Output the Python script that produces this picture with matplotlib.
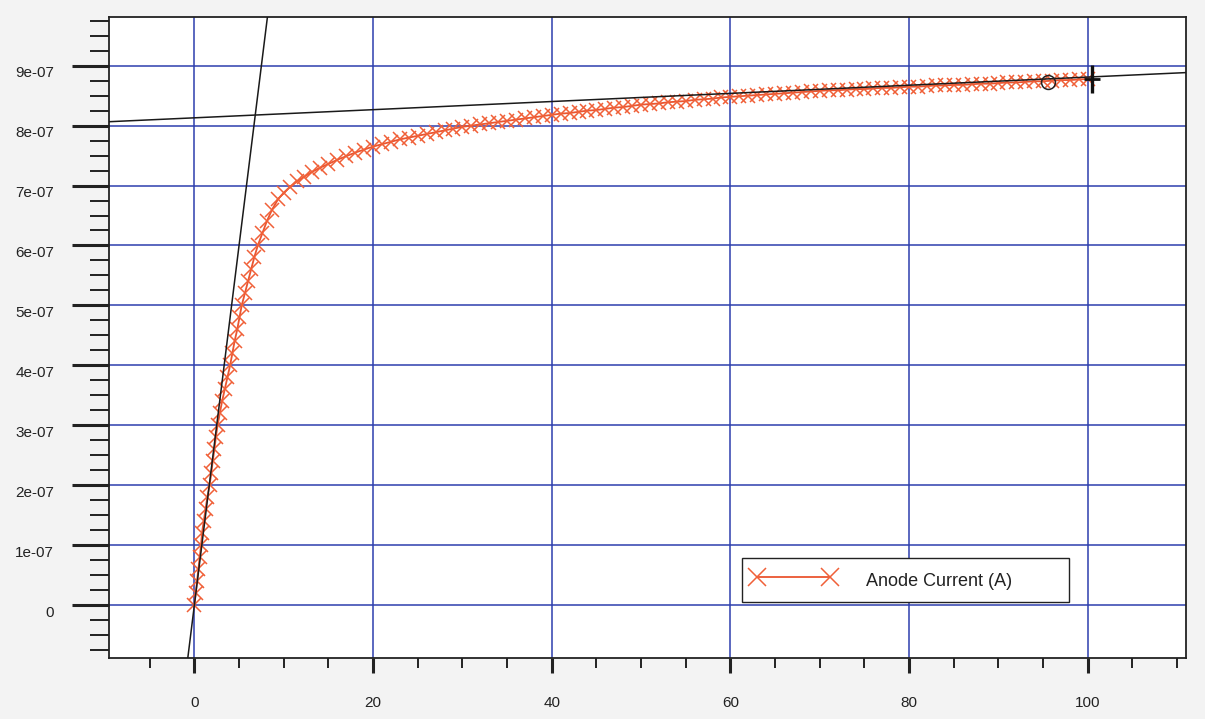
import numpy as np
import matplotlib
matplotlib.use("Agg")
import matplotlib.pyplot as plt
from matplotlib.ticker import MultipleLocator, FuncFormatter
from matplotlib.transforms import ScaledTranslation

plt.rcParams['font.family'] = ['Liberation Sans', 'DejaVu Sans']

# Anode voltage (x) and anode current (in 1e-7 A)
steep_x = [0.00, 0.15, 0.30, 0.45, 0.60, 0.75, 0.85, 1.05, 1.25, 1.45,
           1.70, 1.90, 2.05, 2.25, 2.40, 2.60, 2.85, 3.10, 3.40, 3.70,
           4.00, 4.25, 4.50, 4.80, 5.05, 5.30, 5.65, 6.00, 6.35, 6.70,
           7.10, 7.60, 8.10, 8.70, 9.40, 10.0, 10.7, 11.5, 12.3, 13.2,
           14.1, 15.0, 16.0, 17.0, 18.0, 19.0, 20.0]
steep_i = [0.00, 0.20, 0.40, 0.60, 0.80, 1.00, 1.20, 1.40, 1.60, 1.80,
           2.00, 2.20, 2.40, 2.60, 2.80, 3.00, 3.20, 3.40, 3.60, 3.80,
           4.00, 4.20, 4.40, 4.60, 4.80, 5.00, 5.20, 5.40, 5.60, 5.80,
           6.00, 6.20, 6.40, 6.60, 6.78, 6.88, 6.98, 7.07, 7.15, 7.23,
           7.30, 7.36, 7.43, 7.49, 7.55, 7.60, 7.65]
flat_x = list(range(21, 101))
flat_i = [7.69, 7.73, 7.77, 7.80, 7.83, 7.86, 7.89, 7.92, 7.95, 7.98,
          8.00, 8.02, 8.04, 8.06, 8.08, 8.10, 8.12, 8.14, 8.16, 8.18,
          8.20, 8.21, 8.23, 8.25, 8.26, 8.28, 8.30, 8.31, 8.33, 8.35,
          8.36, 8.37, 8.39, 8.40, 8.41, 8.43, 8.44, 8.45, 8.47, 8.48,
          8.49, 8.50, 8.51, 8.52, 8.53, 8.54, 8.55, 8.56, 8.57, 8.58,
          8.59, 8.59, 8.60, 8.61, 8.61, 8.62, 8.63, 8.63, 8.64, 8.65,
          8.65, 8.66, 8.67, 8.67, 8.68, 8.68, 8.69, 8.70, 8.70, 8.71,
          8.72, 8.72, 8.73, 8.74, 8.74, 8.75, 8.76, 8.76, 8.77, 8.78]

voltage = np.array(steep_x + flat_x, dtype=float)
current = np.array(steep_i + flat_i) * 1e-7

# tangent lines (point, slope) and the two cursors
steep_tangent = ((0.0, 0.0), 1.2e-7)
flat_tangent = ((0.0, 8.13e-7), 6.8e-10)
circle_cursor = (95.5, 8.73e-7)
cross_cursor = (100.5, 8.78e-7)

fig = plt.figure(figsize=(12.05, 7.19), dpi=100, facecolor='#f3f3f3')
ax = fig.add_axes([0.0905, 0.0855, 0.8938, 0.8909])
ax.set_facecolor('white')

ax.set_xlim(-9.55, 111.0)
ax.set_ylim(-0.876e-7, 9.813e-7)

ax.xaxis.set_major_locator(MultipleLocator(20))
ax.xaxis.set_minor_locator(MultipleLocator(5))
ax.yaxis.set_major_locator(MultipleLocator(1e-7))
ax.yaxis.set_minor_locator(MultipleLocator(0.25e-7))
ax.yaxis.set_major_formatter(FuncFormatter(
    lambda v, p: '0' if abs(v) < 1e-12 else f'{v:.0e}'))

ax.grid(True, which='major', color='#2d3fae', lw=1.1, zorder=0)
ax.set_axisbelow(True)

ax.tick_params(axis='y', which='major', length=27, width=2.2, pad=12.5,
               labelsize=11, colors='#222222')
ax.tick_params(axis='y', which='minor', length=14, width=1.4, colors='#222222')
ax.tick_params(axis='x', which='major', length=11, width=2.2, pad=17,
               labelsize=11, colors='#222222')
ax.tick_params(axis='x', which='minor', length=7, width=1.4, colors='#222222')
for sp in ax.spines.values():
    sp.set_linewidth(1.3)
    sp.set_color('#222222')

# y labels sit a little below their ticks in the original
shift = ScaledTranslation(0, -6 / 100, fig.dpi_scale_trans)
for lab in ax.get_yticklabels():
    lab.set_transform(lab.get_transform() + shift)

ax.axline(steep_tangent[0], slope=steep_tangent[1], color='#1a1a1a', lw=1.1, zorder=3)
ax.axline(flat_tangent[0], slope=flat_tangent[1], color='#1a1a1a', lw=1.1, zorder=3)

ax.plot(voltage, current, color='#ea5530', lw=1.3, marker='x', ms=9.5, mew=1.1,
        mec='#f06038', label='Anode Current (A)', zorder=2)

ax.plot(*circle_cursor, marker='o', ms=10, mfc='none', mec='#222222', mew=1.1, zorder=4)
ax.plot(*cross_cursor, marker='|', ms=20, mec='#111111', mew=2.4, zorder=4)
ax.plot(*cross_cursor, marker='_', ms=12, mec='#111111', mew=2.0, zorder=4)

leg = ax.legend(loc='lower left', bbox_to_anchor=(0.5877, 0.0867, 0.3036, 0.078),
                mode='expand', borderaxespad=0, fontsize=13, fancybox=False,
                framealpha=1, edgecolor='#222222', handlelength=4.65,
                handletextpad=1.67, borderpad=0.55, handleheight=1.65,
                numpoints=2, markerscale=1.3)
leg.get_frame().set_linewidth(1.0)
for t in leg.get_texts():
    t.set_color('#222222')

fig.savefig('out.png', dpi=100, facecolor=fig.get_facecolor())
